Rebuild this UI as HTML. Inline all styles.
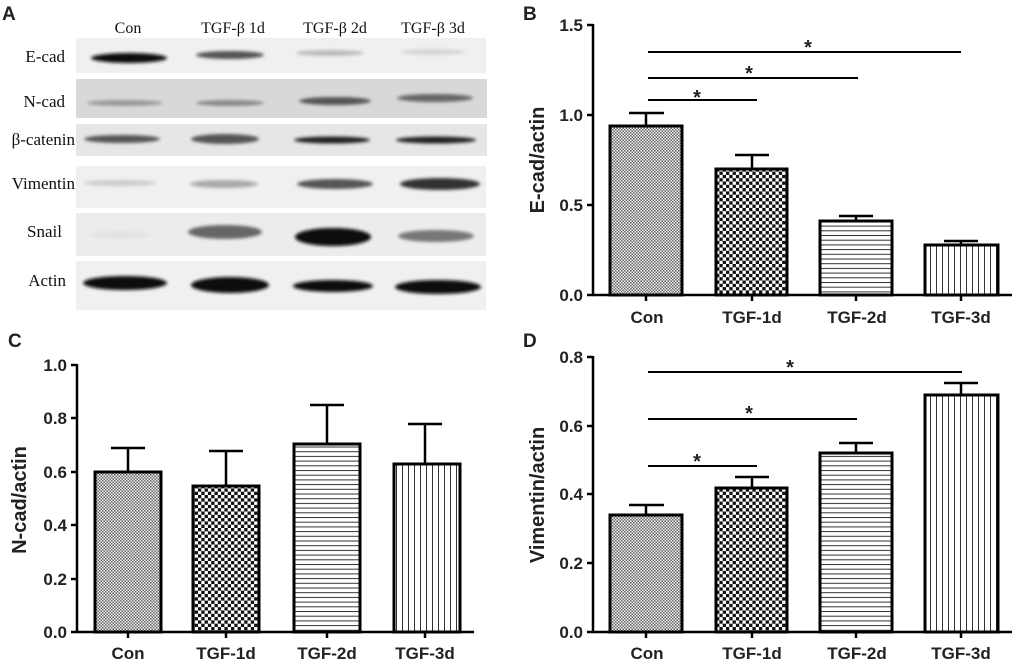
<!DOCTYPE html>
<html><head><meta charset="utf-8"><style>
html,body{margin:0;padding:0;background:#fff;width:1024px;height:664px;overflow:hidden}
svg{display:block}
.t{font-family:"Liberation Sans",sans-serif;font-weight:bold;fill:#222}
.s{font-family:"Liberation Serif",serif;fill:#111}
</style></head><body>
<svg width="1024" height="664" viewBox="0 0 1024 664" xmlns="http://www.w3.org/2000/svg">
<defs>
<pattern id="p0" width="3" height="3" patternUnits="userSpaceOnUse"><rect width="3" height="3" fill="#f2f2f2"/><rect width="1.5" height="1.5" fill="#666"/><rect x="1.5" y="1.5" width="1.5" height="1.5" fill="#666"/></pattern>
<pattern id="p1" width="6.6" height="6.6" patternUnits="userSpaceOnUse"><rect width="6.6" height="6.6" fill="#fff"/><rect width="3.3" height="3.3" fill="#111"/><rect x="3.3" y="3.3" width="3.3" height="3.3" fill="#111"/></pattern>
<pattern id="p2" width="5" height="4.7" patternUnits="userSpaceOnUse"><rect width="5" height="4.7" fill="#fff"/><rect y="0" width="5" height="1" fill="#333"/></pattern>
<pattern id="p3" width="6" height="5" patternUnits="userSpaceOnUse"><rect width="6" height="5" fill="#fff"/><rect x="0" width="1" height="5" fill="#333"/></pattern>
<filter id="bl2"><feGaussianBlur stdDeviation="1.5"/></filter>
</defs>

<!-- Panel A -->
<text x="2" y="20" class="t" font-size="19" fill="#000">A</text>
<g class="s" font-size="16" text-anchor="middle">
<text x="128" y="33">Con</text><text x="233" y="33">TGF-β 1d</text><text x="335" y="33">TGF-β 2d</text><text x="433" y="33">TGF-β 3d</text>
</g>
<g class="s" font-size="17" text-anchor="end">
<text x="65" y="62">E-cad</text><text x="65" y="107">N-cad</text><text x="75" y="145">β-catenin</text><text x="75" y="189">Vimentin</text><text x="62" y="237">Snail</text><text x="66" y="286">Actin</text>
</g>
<g>
<rect x="76" y="38" width="410" height="35" fill="#f0f0f0"/>
<rect x="76" y="79" width="411" height="39" fill="#d8d8d8"/>
<rect x="76" y="124" width="411" height="32" fill="#e6e6e6"/>
<rect x="76" y="166" width="410" height="42" fill="#f0f0f0"/>
<rect x="76" y="213" width="410" height="43" fill="#ececec"/>
<rect x="76" y="261" width="410" height="49" fill="#f0f0f0"/>
</g>
<g filter="url(#bl2)">
<ellipse cx="129" cy="58" rx="38" ry="5" fill="#111"/>
<ellipse cx="230" cy="55" rx="34" ry="4" fill="#555"/>
<ellipse cx="330" cy="53" rx="34" ry="3" fill="#bbb"/>
<ellipse cx="433" cy="52" rx="32" ry="3" fill="#d5d5d5"/>
<ellipse cx="125" cy="103" rx="38" ry="3" fill="#999"/>
<ellipse cx="230" cy="103" rx="34" ry="3" fill="#888"/>
<ellipse cx="335" cy="101" rx="36" ry="4" fill="#555"/>
<ellipse cx="435" cy="98" rx="38" ry="4" fill="#666"/>
<ellipse cx="122" cy="139" rx="38" ry="4" fill="#555"/>
<ellipse cx="225" cy="139" rx="34" ry="5" fill="#555"/>
<ellipse cx="332" cy="140" rx="38" ry="3.5" fill="#222"/>
<ellipse cx="436" cy="140" rx="40" ry="3.5" fill="#222"/>
<ellipse cx="120" cy="183" rx="36" ry="3" fill="#ccc"/>
<ellipse cx="224" cy="184" rx="34" ry="4" fill="#aaa"/>
<ellipse cx="335" cy="184" rx="38" ry="5" fill="#555"/>
<ellipse cx="440" cy="184" rx="40" ry="6" fill="#333"/>
<ellipse cx="120" cy="235" rx="30" ry="4" fill="#e3e3e3"/>
<ellipse cx="225" cy="232" rx="37" ry="7" fill="#666"/>
<ellipse cx="333" cy="237" rx="38" ry="9" fill="#080808"/>
<ellipse cx="436" cy="236" rx="38" ry="6" fill="#777"/>
<ellipse cx="125" cy="283" rx="42" ry="7" fill="#111"/>
<ellipse cx="230" cy="285" rx="39" ry="8" fill="#111"/>
<ellipse cx="333" cy="286" rx="40" ry="6" fill="#111"/>
<ellipse cx="438" cy="287" rx="43" ry="7" fill="#111"/>
</g>

<!-- Panel B -->
<text x="523" y="20" class="t" font-size="19" fill="#000">B</text>
<g stroke="#000" stroke-width="2.5" fill="none">
<line x1="593" y1="24" x2="593" y2="295"/><line x1="592" y1="295" x2="1012" y2="295"/>
<line x1="587" y1="25" x2="593" y2="25"/><line x1="587" y1="115" x2="593" y2="115"/><line x1="587" y1="205" x2="593" y2="205"/><line x1="587" y1="295" x2="593" y2="295"/>
<line x1="646" y1="295" x2="646" y2="301"/><line x1="752" y1="295" x2="752" y2="301"/><line x1="856" y1="295" x2="856" y2="301"/><line x1="961" y1="295" x2="961" y2="301"/>
<line x1="646" y1="126" x2="646" y2="113"/><line x1="629" y1="113" x2="664" y2="113"/>
<line x1="752" y1="169" x2="752" y2="155"/><line x1="735" y1="155" x2="769" y2="155"/>
<line x1="856" y1="221" x2="856" y2="216"/><line x1="839" y1="216" x2="873" y2="216"/>
<line x1="961" y1="245" x2="961" y2="241"/><line x1="944" y1="241" x2="978" y2="241"/>
<line x1="648" y1="52" x2="961" y2="52" stroke-width="2"/><line x1="648" y1="78" x2="858" y2="78" stroke-width="2"/><line x1="648" y1="100" x2="757" y2="100" stroke-width="2"/>
</g>
<g stroke="#000" stroke-width="3">
<rect x="610" y="126" width="72" height="169" fill="url(#p0)"/>
<rect x="716" y="169" width="71" height="126" fill="url(#p1)"/>
<rect x="820" y="221" width="72" height="74" fill="url(#p2)"/>
<rect x="925" y="245" width="73" height="50" fill="url(#p3)"/>
</g>
<g class="t" font-size="20" text-anchor="middle"><text x="808" y="54">*</text><text x="749" y="80">*</text><text x="697" y="104">*</text></g>
<g class="t" font-size="17" text-anchor="end"><text x="583" y="31">1.5</text><text x="583" y="121">1.0</text><text x="583" y="211">0.5</text><text x="583" y="301">0.0</text></g>
<g class="t" font-size="17" text-anchor="middle"><text x="647" y="323">Con</text><text x="752" y="323">TGF-1d</text><text x="857" y="323">TGF-2d</text><text x="961" y="323">TGF-3d</text></g>
<text class="t" font-size="20" text-anchor="middle" transform="translate(544,160) rotate(-90)">E-cad/actin</text>

<!-- Panel C -->
<text x="8" y="347" class="t" font-size="19" fill="#000">C</text>
<g stroke="#000" stroke-width="2.5" fill="none">
<line x1="77" y1="364" x2="77" y2="632"/><line x1="76" y1="632" x2="474" y2="632"/>
<line x1="71" y1="365" x2="77" y2="365"/><line x1="71" y1="418" x2="77" y2="418"/><line x1="71" y1="472" x2="77" y2="472"/><line x1="71" y1="525" x2="77" y2="525"/><line x1="71" y1="579" x2="77" y2="579"/><line x1="71" y1="632" x2="77" y2="632"/>
<line x1="128" y1="632" x2="128" y2="638"/><line x1="226" y1="632" x2="226" y2="638"/><line x1="327" y1="632" x2="327" y2="638"/><line x1="425" y1="632" x2="425" y2="638"/>
<line x1="128" y1="472" x2="128" y2="448"/><line x1="111" y1="448" x2="145" y2="448"/>
<line x1="226" y1="486" x2="226" y2="451"/><line x1="209" y1="451" x2="243" y2="451"/>
<line x1="327" y1="444" x2="327" y2="405"/><line x1="310" y1="405" x2="344" y2="405"/>
<line x1="425" y1="464" x2="425" y2="424"/><line x1="408" y1="424" x2="442" y2="424"/>
</g>
<g stroke="#000" stroke-width="3">
<rect x="95" y="472" width="66" height="160" fill="url(#p0)"/>
<rect x="193" y="486" width="66" height="146" fill="url(#p1)"/>
<rect x="294" y="444" width="66" height="188" fill="url(#p2)"/>
<rect x="394" y="464" width="66" height="168" fill="url(#p3)"/>
</g>
<g class="t" font-size="17" text-anchor="end"><text x="67" y="371">1.0</text><text x="67" y="424">0.8</text><text x="67" y="478">0.6</text><text x="67" y="531">0.4</text><text x="67" y="585">0.2</text><text x="67" y="638">0.0</text></g>
<g class="t" font-size="17" text-anchor="middle"><text x="128" y="659">Con</text><text x="226" y="659">TGF-1d</text><text x="327" y="659">TGF-2d</text><text x="425" y="659">TGF-3d</text></g>
<text class="t" font-size="20" text-anchor="middle" transform="translate(26,500) rotate(-90)">N-cad/actin</text>

<!-- Panel D -->
<text x="523" y="347" class="t" font-size="19" fill="#000">D</text>
<g stroke="#000" stroke-width="2.5" fill="none">
<line x1="593" y1="356" x2="593" y2="632"/><line x1="592" y1="632" x2="1012" y2="632"/>
<line x1="587" y1="357" x2="593" y2="357"/><line x1="587" y1="426" x2="593" y2="426"/><line x1="587" y1="494" x2="593" y2="494"/><line x1="587" y1="563" x2="593" y2="563"/><line x1="587" y1="632" x2="593" y2="632"/>
<line x1="646" y1="632" x2="646" y2="638"/><line x1="752" y1="632" x2="752" y2="638"/><line x1="856" y1="632" x2="856" y2="638"/><line x1="961" y1="632" x2="961" y2="638"/>
<line x1="646" y1="515" x2="646" y2="505"/><line x1="629" y1="505" x2="664" y2="505"/>
<line x1="752" y1="488" x2="752" y2="477"/><line x1="735" y1="477" x2="769" y2="477"/>
<line x1="856" y1="453" x2="856" y2="443"/><line x1="839" y1="443" x2="873" y2="443"/>
<line x1="961" y1="395" x2="961" y2="383"/><line x1="944" y1="383" x2="978" y2="383"/>
<line x1="648" y1="372" x2="962" y2="372" stroke-width="2"/><line x1="648" y1="419" x2="857" y2="419" stroke-width="2"/><line x1="648" y1="466" x2="757" y2="466" stroke-width="2"/>
</g>
<g stroke="#000" stroke-width="3">
<rect x="610" y="515" width="72" height="117" fill="url(#p0)"/>
<rect x="716" y="488" width="71" height="144" fill="url(#p1)"/>
<rect x="820" y="453" width="72" height="179" fill="url(#p2)"/>
<rect x="925" y="395" width="73" height="237" fill="url(#p3)"/>
</g>
<g class="t" font-size="20" text-anchor="middle"><text x="790" y="374">*</text><text x="749" y="420">*</text><text x="697" y="468">*</text></g>
<g class="t" font-size="17" text-anchor="end"><text x="583" y="363">0.8</text><text x="583" y="432">0.6</text><text x="583" y="500">0.4</text><text x="583" y="569">0.2</text><text x="583" y="638">0.0</text></g>
<g class="t" font-size="17" text-anchor="middle"><text x="647" y="659">Con</text><text x="752" y="659">TGF-1d</text><text x="857" y="659">TGF-2d</text><text x="961" y="659">TGF-3d</text></g>
<text class="t" font-size="20" text-anchor="middle" transform="translate(544,495) rotate(-90)">Vimentin/actin</text>
</svg>
</body></html>
